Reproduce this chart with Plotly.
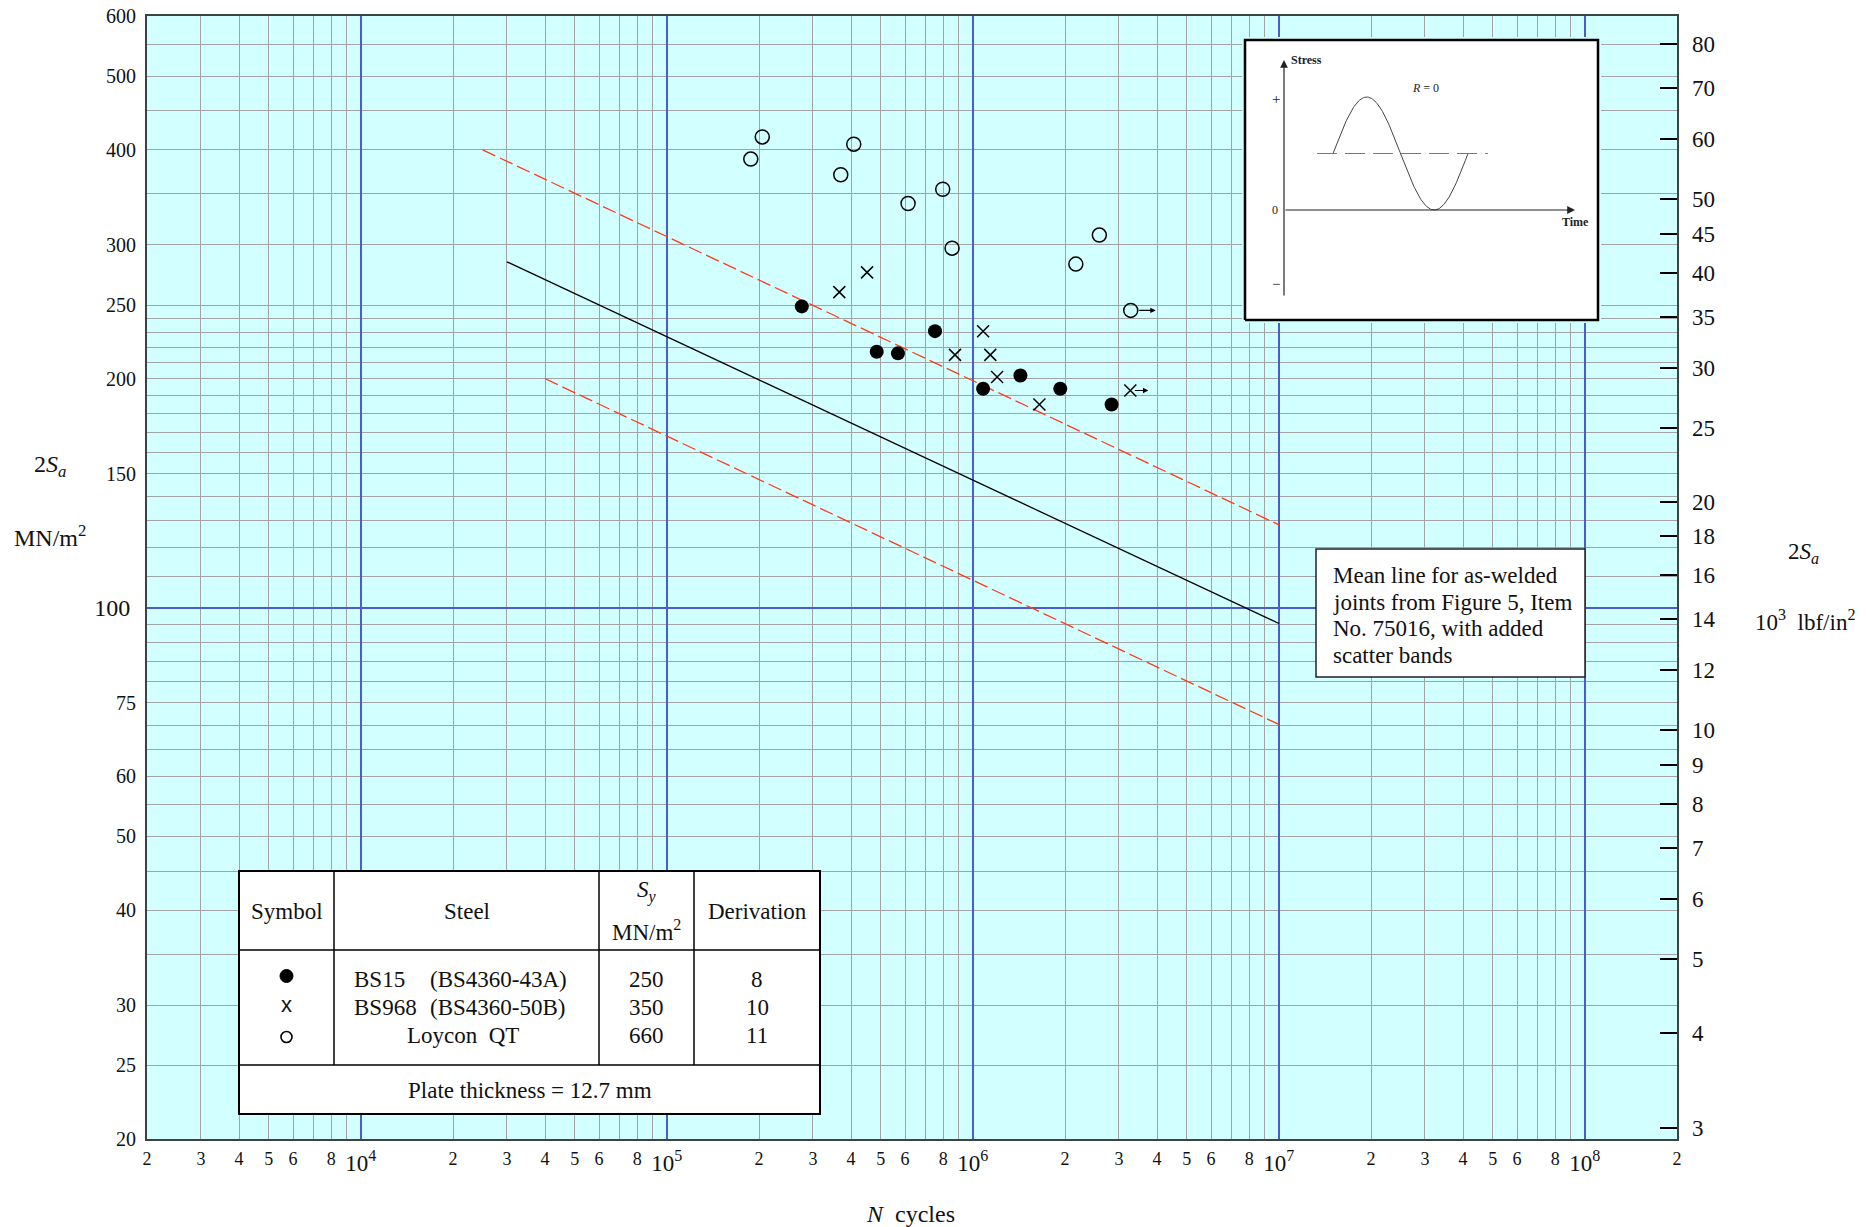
import numpy as np
import plotly.graph_objects as go

# ---------------- test results (N cycles, 2Sa in MN/m^2) ----------------
# BS15 (BS4360-43A), Sy = 250 MN/m^2
bs15_cycles = [2.76e5, 4.85e5, 5.69e5, 7.52e5, 1.08e6, 1.43e6, 1.93e6, 2.84e6]
bs15_stress = [249, 217, 216, 231, 194, 202, 194, 185]
# BS968 (BS4360-50B), Sy = 350 MN/m^2
bs968_cycles = [3.66e5, 4.51e5, 8.74e5, 1.08e6, 1.14e6, 1.20e6, 1.65e6, 3.27e6]
bs968_stress = [260, 276, 215, 231, 215, 201, 185, 193]
# Loycon QT, Sy = 660 MN/m^2
loycon_cycles = [1.88e5, 2.05e5, 3.70e5, 4.08e5, 6.14e5, 7.97e5, 8.55e5, 2.17e6, 2.59e6, 3.28e6]
loycon_stress = [389, 416, 371, 407, 340, 355, 297, 283, 309, 246]
# unbroken specimens (shown with an arrow)
runout_cycles = [3.28e6, 3.27e6]
runout_stress = [246, 193]
runout_kind = ["open", "x"]

# mean S-N line for as-welded joints and its scatter band
mean_cycles = [3.0e4, 1.0e7]
mean_stress = [285, 95.3]
upper_cycles = [2.5e4, 1.0e7]
upper_stress = [400, 128.5]
lower_cycles = [4.0e4, 1.0e7]
lower_stress = [200, 70.2]

# note and table contents
note_lines = ["Mean line for as-welded", "joints from Figure 5, Item",
              "No. 75016, with added", "scatter bands"]
table_steel_grade = ["BS15", "BS968", "Loycon  QT"]
table_steel_spec = ["(BS4360-43A)", "(BS4360-50B)", ""]
table_sy = [250, 350, 660]
table_derivation = [8, 10, 11]
plate_thickness_mm = 12.7

# axis ticks
x_min, x_max = 2e3, 2e8
x_decades = [1e4, 1e5, 1e6, 1e7, 1e8]
x_labeled_mults = [2, 3, 4, 5, 6, 8]
y_min, y_max = 20, 600
y_grid_vals = list(range(20, 100, 5)) + list(range(110, 250, 10)) + list(range(250, 601, 50))
y_label_vals = [20, 25, 30, 40, 50, 60, 75, 150, 200, 250, 300, 400, 500, 600]
y_major = [100]
ksi_ticks = [3, 4, 5, 6, 7, 8, 9, 10, 12, 14, 16, 18, 20, 25, 30, 35, 40, 45, 50, 60, 70, 80]
MN_PER_KSI = 6.894757

# ---------------- styling ----------------
FONT = "Liberation Serif"
INK = "#111111"
BG = "#d2ffff"
GRID = "#a3a3a3"
DECADE = "#4a5ccf"
BAND = "#ff3b1a"

W, H = 1866, 1227
L, R, T, B = 147, 1677, 16, 1139


def fx(px):
    return (px - L) / (R - L)


def fy(py):
    return (B - py) / (B - T)


# x grid at every integer multiple inside each decade; labels on a subset
x_grid_vals, x_label_vals, x_label_text = [], [], []
for e in range(3, 9):
    for m in range(2, 10):
        v = m * 10 ** e
        if x_min <= v <= x_max:
            x_grid_vals.append(v)
            if m in x_labeled_mults:
                x_label_vals.append(v)
                x_label_text.append(str(m))
x_decade_text = [f"10<sup>{int(round(np.log10(v)))}</sup>" for v in x_decades]

fig = go.Figure()

# scatter band and mean line
for xs, ys in [(upper_cycles, upper_stress), (lower_cycles, lower_stress)]:
    fig.add_trace(go.Scatter(x=xs, y=ys, mode="lines",
                             line=dict(color=BAND, width=1.3, dash="14px,5px"),
                             showlegend=False, hoverinfo="skip"))
fig.add_trace(go.Scatter(x=mean_cycles, y=mean_stress, mode="lines",
                         line=dict(color="black", width=1.3),
                         showlegend=False, hoverinfo="skip"))

# test points
fig.add_trace(go.Scatter(x=bs15_cycles, y=bs15_stress, mode="markers",
                         marker=dict(symbol="circle", size=14, color="black"),
                         name="BS15", showlegend=False))
fig.add_trace(go.Scatter(x=bs968_cycles, y=bs968_stress, mode="markers",
                         marker=dict(symbol="x-thin", size=12, color="black",
                                     line=dict(width=1.5, color="black")),
                         name="BS968", showlegend=False))
fig.add_trace(go.Scatter(x=loycon_cycles, y=loycon_stress, mode="markers",
                         marker=dict(symbol="circle-open", size=14, color="black",
                                     line=dict(width=1.5)),
                         name="Loycon QT", showlegend=False))

# companion axes: secondary stress scale (10^3 lbf/in^2) and label-only axes
fig.add_trace(go.Scatter(x=[], y=[], yaxis="y2", showlegend=False, hoverinfo="skip"))
fig.add_trace(go.Scatter(x=[], y=[], xaxis="x2", showlegend=False, hoverinfo="skip"))
fig.add_trace(go.Scatter(x=[], y=[], yaxis="y3", showlegend=False, hoverinfo="skip"))

# ---------------- inset: R = 0 stress cycle ----------------
IN_OX, IN_OY = 1284, 210      # origin of the sketch (px)
IN_TU, IN_SU = 135, 56.5      # px per cycle, px per stress amplitude


def itx(px):
    return (px - IN_OX) / IN_TU


def ity(py):
    return (IN_OY - py) / IN_SU


box_l, box_r, box_t, box_b = 1245, 1598, 40, 320
fig.add_trace(go.Scatter(
    x=[itx(box_l), itx(box_r), itx(box_r), itx(box_l), itx(box_l)],
    y=[ity(box_b), ity(box_b), ity(box_t), ity(box_t), ity(box_b)],
    mode="lines", fill="toself", fillcolor="white",
    line=dict(color="black", width=2.5),
    xaxis="x4", yaxis="y4", showlegend=False, hoverinfo="skip"))
t0 = itx(1333)
t = np.linspace(t0, t0 + 1, 200)
fig.add_trace(go.Scatter(x=t, y=1 + np.sin(2 * np.pi * (t - t0)), mode="lines",
                         line=dict(color="#444", width=1),
                         xaxis="x4", yaxis="y4", showlegend=False, hoverinfo="skip"))
fig.add_trace(go.Scatter(x=[itx(1317), itx(1488)], y=[1, 1], mode="lines",
                         line=dict(color="#777", width=1.2, dash="20px,8px"),
                         xaxis="x4", yaxis="y4", showlegend=False, hoverinfo="skip"))

annotations = []
# sketch axes with arrowheads
annotations.append(dict(x=itx(1575), y=0, ax=0, ay=0, xref="x4", yref="y4",
                        axref="x4", ayref="y4", text="", showarrow=True,
                        arrowhead=2, arrowsize=1.3, arrowwidth=1.2, arrowcolor="#222",
                        standoff=0, startstandoff=0))
annotations.append(dict(x=0, y=ity(60), ax=0, ay=ity(297), xref="x4", yref="y4",
                        axref="x4", ayref="y4", text="", showarrow=True,
                        arrowhead=2, arrowsize=1.3, arrowwidth=1.2, arrowcolor="#222",
                        standoff=0, startstandoff=0))
for txt, px, py, anchor, size in [("<b>Stress</b>", 1289, 60, "left", 12),
                                  ("<b>Time</b>", 1575, 222, "center", 12),
                                  ("+", 1276, 99, "center", 15),
                                  ("0", 1275, 210, "center", 12),
                                  ("\u2212", 1276, 284, "center", 15),
                                  ("<i>R</i> = 0", 1425, 88, "center", 12)]:
    annotations.append(dict(x=itx(px), y=ity(py), xref="x4", yref="y4", text=txt,
                            showarrow=False, xanchor=anchor, yanchor="middle",
                            font=dict(family=FONT, size=size, color="#222")))

# run-out arrows
for n, s, kind in zip(runout_cycles, runout_stress, runout_kind):
    tip, tail = (25, 7) if kind == "open" else (18, 3)
    annotations.append(dict(x=np.log10(n), y=np.log10(s), xref="x", yref="y",
                            xshift=tip, ax=-(tip - tail), ay=0, text="",
                            showarrow=True, arrowhead=2, arrowsize=0.9,
                            arrowwidth=1.2, arrowcolor="black", standoff=0))

# ---------------- shapes ----------------
shapes = []

# note box
shapes.append(dict(type="rect", xref="paper", yref="paper",
                   x0=fx(1316), x1=fx(1585), y0=fy(677), y1=fy(549),
                   fillcolor="white", line=dict(color="#222", width=1.5), layer="above"))
for line_txt, py in zip(note_lines, [575, 602, 628, 655]):
    annotations.append(dict(x=fx(1331), y=fy(py), xref="paper", yref="paper",
                            xanchor="left", yanchor="middle", align="left", showarrow=False,
                            text=line_txt, font=dict(family=FONT, size=23, color=INK)))

# steel table
tl, tr, tt, tb = 239, 820, 871, 1114
t_head, t_body = 950, 1065
cols = [239, 334, 599, 694, 820]
shapes.append(dict(type="rect", xref="paper", yref="paper",
                   x0=fx(tl), x1=fx(tr), y0=fy(tb), y1=fy(tt),
                   fillcolor="white", line=dict(color="black", width=2), layer="above"))
for yy in (t_head, t_body):
    shapes.append(dict(type="line", xref="paper", yref="paper", x0=fx(tl), x1=fx(tr),
                       y0=fy(yy), y1=fy(yy), line=dict(color="black", width=1.5), layer="above"))
for xx in cols[1:4]:
    shapes.append(dict(type="line", xref="paper", yref="paper", x0=fx(xx), x1=fx(xx),
                       y0=fy(t_body), y1=fy(tt), line=dict(color="black", width=1.5), layer="above"))

tfont = dict(family=FONT, size=23, color=INK)
ccent = [(cols[i] + cols[i + 1]) / 2 for i in range(4)]


def tnote(txt, px, py, anchor="center"):
    annotations.append(dict(x=fx(px), y=fy(py), xref="paper", yref="paper", text=txt,
                            showarrow=False, xanchor=anchor, yanchor="middle", font=tfont))


tnote("Symbol", ccent[0], 911)
tnote("Steel", ccent[1], 911)
tnote("<i>S<sub>y</sub></i>", ccent[2], 891)
tnote("MN/m<sup>2</sup>", ccent[2], 930)
tnote("Derivation", ccent[3], 911)
row_y = [979, 1007, 1035]
for i in range(3):
    if table_steel_spec[i]:
        tnote(table_steel_grade[i], 352, row_y[i], "left")
        tnote(table_steel_spec[i], 428, row_y[i], "left")
    else:
        tnote(table_steel_grade[i], ccent[1] - 4, row_y[i])
    tnote(str(table_sy[i]), ccent[2], row_y[i])
    tnote(str(table_derivation[i]), ccent[3], row_y[i])
tnote(f"Plate thickness = {plate_thickness_mm} mm", (tl + tr) / 2, 1090)

# table symbols
sym_x = ccent[0]
shapes.append(dict(type="circle", xref="paper", yref="paper", xsizemode="pixel",
                   ysizemode="pixel", xanchor=fx(sym_x), yanchor=fy(976),
                   x0=-6.5, x1=6.5, y0=-6.5, y1=6.5, fillcolor="black",
                   line=dict(color="black", width=1), layer="above"))
shapes.append(dict(type="circle", xref="paper", yref="paper", xsizemode="pixel",
                   ysizemode="pixel", xanchor=fx(sym_x), yanchor=fy(1037),
                   x0=-5.5, x1=5.5, y0=-5.5, y1=5.5, fillcolor="white",
                   line=dict(color="black", width=1.6), layer="above"))
annotations.append(dict(x=fx(sym_x), y=fy(1004), xref="paper", yref="paper", text="x",
                        showarrow=False, xanchor="center", yanchor="middle",
                        font=dict(family="Liberation Sans", size=22, color=INK)))

# axis titles
for txt, px, py, size in [("2<i>S<sub>a</sub></i>", 50, 466, 24),
                          ("MN/m<sup>2</sup>", 50, 536, 24),
                          ("2<i>S<sub>a</sub></i>", 1803, 553, 23),
                          ("10<sup>3</sup>  lbf/in<sup>2</sup>", 1805, 620, 23),
                          ("<i>N</i>  cycles", 910, 1214, 24)]:
    annotations.append(dict(x=fx(px), y=fy(py), xref="paper", yref="paper", text=txt,
                            showarrow=False, xanchor="center", yanchor="middle",
                            font=dict(family=FONT, size=size, color=INK)))

x_range = [np.log10(x_min), np.log10(x_max)]
y_range = [np.log10(y_min), np.log10(y_max)]

fig.update_layout(
    template="none",
    width=W, height=H,
    margin=dict(l=L, r=W - R, t=T, b=H - B, pad=0),
    paper_bgcolor="white",
    plot_bgcolor=BG,
    showlegend=False,
    font=dict(family=FONT, color=INK),
    # main N axis: decades carry the blue grid, other multiples the grey grid
    xaxis=dict(type="log", range=x_range, domain=[0, 1],
               tickmode="array", tickvals=x_decades, ticktext=x_decade_text,
               tickfont=dict(family=FONT, size=23, color=INK), tickangle=0,
               ticks="", ticklabelstandoff=2,
               showgrid=True, gridcolor=DECADE, gridwidth=1.6, zeroline=False,
               minor=dict(tickmode="array", tickvals=x_grid_vals, showgrid=True,
                          gridcolor=GRID, gridwidth=1.3, ticks=""),
               showline=True, linecolor="#3a4444", linewidth=2, mirror=True,
               automargin=False, anchor="y"),
    xaxis2=dict(type="log", range=x_range, overlaying="x", side="bottom", anchor="y",
                tickmode="array", tickvals=x_label_vals, ticktext=x_label_text,
                tickfont=dict(family=FONT, size=18, color=INK), tickangle=0,
                ticks="", ticklabelstandoff=7, showgrid=False, zeroline=False,
                showline=False, automargin=False),
    yaxis=dict(type="log", range=y_range, domain=[0, 1],
               tickmode="array", tickvals=y_major, ticktext=[str(v) for v in y_major],
               tickfont=dict(family=FONT, size=24, color=INK),
               ticks="", ticklabelstandoff=10,
               showgrid=True, gridcolor=DECADE, gridwidth=1.6, zeroline=False,
               minor=dict(tickmode="array", tickvals=y_grid_vals, showgrid=True,
                          gridcolor=GRID, gridwidth=1.3, ticks=""),
               showline=True, linecolor="#3a4444", linewidth=2, mirror=True,
               automargin=False, anchor="x"),
    yaxis3=dict(type="log", range=y_range, overlaying="y", side="left", anchor="x",
                tickmode="array", tickvals=y_label_vals, ticktext=[str(v) for v in y_label_vals],
                tickfont=dict(family=FONT, size=20, color=INK),
                ticks="", ticklabelstandoff=10, showgrid=False, zeroline=False,
                showline=False, automargin=False),
    yaxis2=dict(type="log", overlaying="y", side="right", anchor="x",
                range=[np.log10(y_min / MN_PER_KSI), np.log10(y_max / MN_PER_KSI)],
                tickmode="array", tickvals=ksi_ticks, ticktext=[str(v) for v in ksi_ticks],
                tickfont=dict(family=FONT, size=23, color=INK),
                ticks="inside", ticklen=17, tickwidth=1.6, tickcolor="black",
                ticklabelstandoff=14, showgrid=False, zeroline=False, showline=False,
                automargin=False),
    xaxis4=dict(domain=[fx(1242), fx(1601)], anchor="y4",
                range=[itx(1242), itx(1601)], visible=False, fixedrange=True),
    yaxis4=dict(domain=[fy(323), fy(37)], anchor="x4",
                range=[ity(323), ity(37)], visible=False, fixedrange=True),
    shapes=shapes,
    annotations=annotations,
)

fig.write_html("out.html")
